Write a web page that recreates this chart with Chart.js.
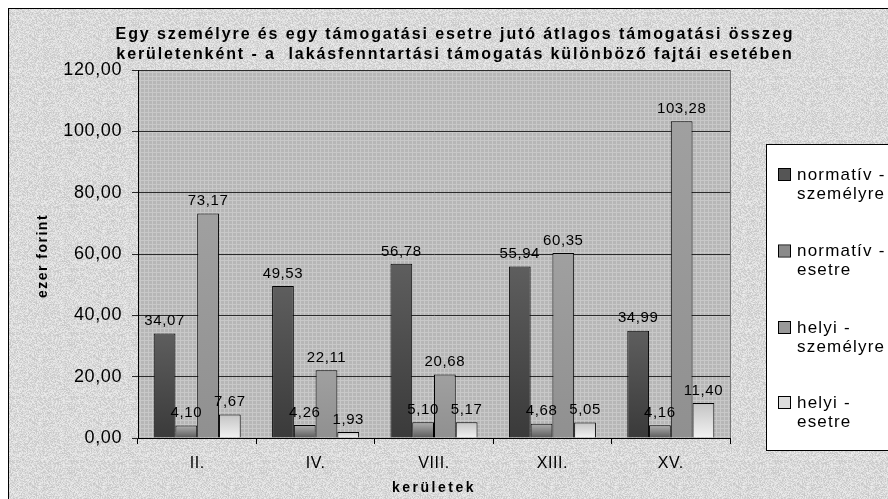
<!DOCTYPE html>
<html lang="hu">
<head>
  <meta charset="UTF-8" />
  <title>Átlagos támogatási összeg kerületenként</title>
  <script src="https://cdn.jsdelivr.net/npm/chart.js"></script>
  <style>
    body { margin: 0; padding: 0; background: #fff; }
    canvas { display: block; }
  </style>
</head>
<body>
  <canvas id="chart" width="888" height="499"></canvas>

  <script>
    // adatok
    const keruletek = ['II.', 'IV.', 'VIII.', 'XIII.', 'XV.'];
    const normativSzemelyre = [34.07, 49.53, 56.78, 55.94, 34.99];
    const normativEsetre = [4.10, 4.26, 5.10, 4.68, 4.16];
    const helyiSzemelyre = [73.17, 22.11, 20.68, 60.35, 103.28];
    const helyiEsetre = [7.67, 1.93, 5.17, 5.05, 11.40];
    const sorozatNevek = [
      ['normatív -', 'személyre'],
      ['normatív -', 'esetre'],
      ['helyi -', 'személyre'],
      ['helyi -', 'esetre']
    ];
    const cimSorok = [
      'Egy személyre és egy támogatási esetre jutó átlagos támogatási összeg',
      'kerületenként - a  lakásfenntartási támogatás különböző fajtái esetében'
    ];

    const FONT = 'Arial, "Liberation Sans", sans-serif';
    const fmt = v => v.toFixed(2).replace('.', ',');

    // színátmenetek az oszlopokhoz (oszlop teteje -> alja)
    const gradients = [
      ['#5e5e5e', '#3a3a3a'],
      ['#b0b0b0', '#5a5a5a'],
      ['#a0a0a0', '#909090'],
      ['#c4c4c4', '#f2f2f2']
    ];
    function grad(i) {
      return function (ctx) {
        const chart = ctx.chart;
        const a = chart.chartArea;
        if (!a || ctx.parsed == null) return gradients[i][0];
        const top = chart.scales.y.getPixelForValue(ctx.parsed.y);
        const g = chart.ctx.createLinearGradient(0, top, 0, a.bottom);
        g.addColorStop(0, gradients[i][0]);
        g.addColorStop(1, gradients[i][1]);
        return g;
      };
    }

    // rajzterület mintája (finom rács)
    function plotPattern(ctx) {
      const c = document.createElement('canvas');
      c.width = 4; c.height = 4;
      const p = c.getContext('2d');
      p.fillStyle = '#b6b6b6';
      p.fillRect(0, 0, 4, 4);
      p.fillStyle = '#c8c8c8';
      p.fillRect(0, 0, 4, 1);
      p.fillRect(0, 0, 1, 4);
      return ctx.createPattern(c, 'repeat');
    }

    // gránit jellegű háttér, determinisztikus zaj
    function granitPattern(ctx) {
      const c = document.createElement('canvas');
      c.width = 64; c.height = 64;
      const p = c.getContext('2d');
      const img = p.createImageData(64, 64);
      for (let y = 0; y < 64; y++) {
        for (let x = 0; x < 64; x++) {
          const h = Math.sin(x * 12.9898 + y * 78.233) * 43758.5453;
          const n = h - Math.floor(h);
          const v = 198 + Math.round(n * 38);
          const k = (y * 64 + x) * 4;
          img.data[k] = img.data[k + 1] = img.data[k + 2] = v;
          img.data[k + 3] = 255;
        }
      }
      p.putImageData(img, 0, 0);
      return ctx.createPattern(c, 'repeat');
    }

    const hatterPlugin = {
      id: 'hatter',
      beforeDraw(chart) {
        const { ctx, chartArea: a } = chart;
        ctx.save();
        ctx.fillStyle = '#fff';
        ctx.fillRect(0, 0, chart.width, chart.height);
        ctx.fillStyle = granitPattern(ctx);
        ctx.fillRect(8, 8, chart.width, chart.height);
        ctx.strokeStyle = '#000';
        ctx.lineWidth = 1;
        ctx.strokeRect(8.5, 8.5, chart.width + 10, chart.height + 10);
        ctx.fillStyle = plotPattern(ctx);
        ctx.fillRect(a.left, a.top, a.right - a.left, a.bottom - a.top);
        ctx.strokeStyle = '#777';
        ctx.strokeRect(a.left + 0.5, a.top + 0.5, a.right - a.left, a.bottom - a.top);
        ctx.restore();
        // a tengelyfeliratok kissé ritkított betűkkel
        ctx.letterSpacing = '0.6px';
      }
    };

    const szovegPlugin = {
      id: 'szovegek',
      afterDraw(chart) {
        const { ctx, chartArea: a } = chart;
        ctx.save();
        ctx.fillStyle = '#000';
        ctx.textAlign = 'center';
        ctx.textBaseline = 'middle';

        // cím
        ctx.font = 'bold 16px ' + FONT;
        ctx.letterSpacing = '1.9px';
        ctx.fillText(cimSorok[0], 455, 35);
        ctx.fillText(cimSorok[1], 455, 55);

        // tengelycímek
        ctx.font = 'bold 14px ' + FONT;
        ctx.letterSpacing = '2.5px';
        ctx.fillText('kerületek', (a.left + a.right) / 2, 488);
        ctx.save();
        ctx.translate(43, 256);
        ctx.rotate(-Math.PI / 2);
        ctx.font = 'bold 14px ' + FONT;
        ctx.letterSpacing = '1.5px';
        ctx.fillText('ezer forint', 0, 0);
        ctx.restore();

        // jelmagyarázat
        ctx.fillStyle = '#fff';
        ctx.fillRect(766, 144, 140, 306);
        ctx.strokeStyle = '#000';
        ctx.strokeRect(766.5, 144.5, 140, 306);
        ctx.textAlign = 'left';
        ctx.font = '17px ' + FONT;
        ctx.letterSpacing = '1.2px';
        const legendColors = ['#555', '#8a8a8a', '#999', '#ddd'];
        const legendY = [175, 251.5, 328, 403];
        chart.data.datasets.forEach((ds, i) => {
          const y = legendY[i];
          ctx.fillStyle = legendColors[i];
          ctx.fillRect(778, y - 6, 12, 11);
          ctx.strokeStyle = '#000';
          ctx.strokeRect(778.5, y - 6.5, 12, 12);
          ctx.fillStyle = '#000';
          ctx.fillText(ds.label[0], 797, y);
          ctx.fillText(ds.label[1], 797, y + 19);
        });
        ctx.restore();
        ctx.letterSpacing = '0px';
      },
      afterDatasetsDraw(chart) {
        const { ctx } = chart;
        ctx.save();
        ctx.fillStyle = '#000';
        ctx.font = '15px ' + FONT;
        ctx.letterSpacing = '0.6px';
        ctx.textAlign = 'center';
        ctx.textBaseline = 'bottom';
        chart.data.datasets.forEach((ds, i) => {
          chart.getDatasetMeta(i).data.forEach((el, j) => {
            ctx.fillText(fmt(ds.data[j]), el.x, el.y - 5);
          });
        });
        ctx.restore();
      }
    };

    const sorozatok = [normativSzemelyre, normativEsetre, helyiSzemelyre, helyiEsetre];

    new Chart(document.getElementById('chart'), {
      type: 'bar',
      data: {
        labels: keruletek,
        datasets: sorozatok.map((d, i) => ({
          label: sorozatNevek[i],
          data: d,
          backgroundColor: grad(i),
          borderColor: '#000',
          borderWidth: 1,
          borderSkipped: 'bottom',
          barPercentage: 1,
          categoryPercentage: 0.735
        }))
      },
      options: {
        responsive: false,
        animation: false,
        layout: { padding: { left: 0, top: 70, right: 158, bottom: 0 } },
        plugins: {
          legend: { display: false },
          title: { display: false },
          tooltip: { enabled: false }
        },
        scales: {
          x: {
            afterFit(scale) { scale.height = 61; },
            grid: { offset: true, drawOnChartArea: false, drawTicks: true, tickLength: 6, color: '#000' },
            border: { color: '#000' },
            ticks: { color: '#000', padding: 10, font: { family: FONT, size: 16 } }
          },
          y: {
            min: 0,
            max: 120,
            afterFit(scale) { scale.width = 138; },
            grid: { color: '#2a2a2a', tickLength: 6 },
            border: { color: '#000' },
            ticks: {
              stepSize: 20,
              color: '#000',
              padding: 10,
              font: { family: FONT, size: 18 },
              callback: v => fmt(v)
            }
          }
        }
      },
      plugins: [hatterPlugin, szovegPlugin]
    });
  </script>
</body>
</html>
